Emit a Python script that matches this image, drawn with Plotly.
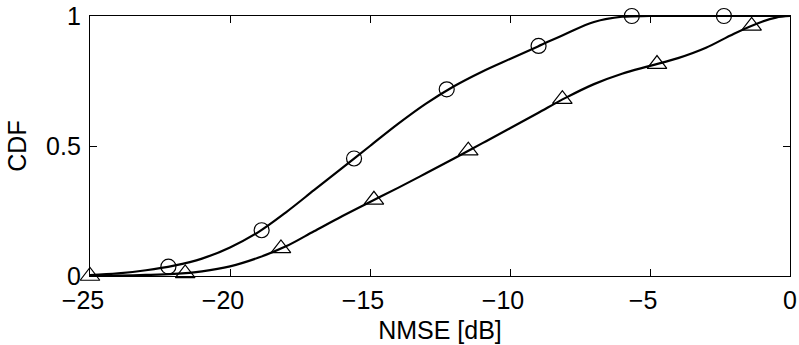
import plotly.graph_objects as go

# Smooth CDF curves
curve_x = [-25, -24, -23, -22, -21, -20, -19, -18, -17, -16, -15, -14, -13, -12, -11,
           -10, -9, -8, -7, -6, -5, -4, -3, -2, -1, -0.5, 0]
cdf_circle = [0.003, 0.01, 0.022, 0.04, 0.067, 0.11, 0.168, 0.245, 0.33, 0.415, 0.50,
              0.585, 0.663, 0.73, 0.786, 0.835, 0.883, 0.932, 0.977, 0.997, 1.0, 1.0, 1.0,
              1.0, 1.0, 1.0, 1.0]
cdf_triangle = [0.0, 0.002, 0.004, 0.008, 0.018, 0.037, 0.07, 0.114, 0.172, 0.23, 0.285,
                0.339, 0.395, 0.452, 0.51, 0.568, 0.627, 0.686, 0.738, 0.778, 0.808, 0.838,
                0.878, 0.932, 0.978, 0.994, 1.0]

# Marker positions
circle_x = [-22.2, -18.87, -15.57, -12.26, -8.98, -5.65, -2.36]
circle_y = [0.036, 0.176, 0.452, 0.718, 0.885, 1.0, 1.0]
tri_x = [-25.0, -21.6, -18.18, -14.86, -11.49, -8.13, -4.75, -1.37]
tri_y = [0.0, 0.01, 0.106, 0.293, 0.482, 0.68, 0.815, 0.962]

x_ticks = [-25, -20, -15, -10, -5, 0]
x_ticktext = ["\u221225", "\u221220", "\u221215", "\u221210", "\u22125", "0"]
y_ticks = [0, 0.5, 1]
y_ticktext = ["0", "0.5", "1"]

PAD = "\u00a0\u00a0"
x_labels = [t + PAD if t.startswith("\u2212") else t for t in x_ticktext]

fig = go.Figure()
for ys in (cdf_circle, cdf_triangle):
    fig.add_trace(go.Scatter(x=curve_x, y=ys, mode="lines",
                             line=dict(color="black", width=2.2, shape="spline", smoothing=1.0),
                             showlegend=False))
fig.add_trace(go.Scatter(x=circle_x, y=circle_y, mode="markers",
                         marker=dict(symbol="circle-open", size=15, color="black",
                                     line=dict(width=1.2, color="black")),
                         showlegend=False, cliponaxis=False))
fig.add_trace(go.Scatter(x=tri_x, y=tri_y, mode="markers",
                         marker=dict(symbol="triangle-up-open", size=17, color="black",
                                     line=dict(width=1.2, color="black")),
                         showlegend=False, cliponaxis=False))

font = dict(family="Liberation Sans, Arial, sans-serif", size=25, color="black")
fig.update_layout(
    width=799, height=345,
    margin=dict(l=90, r=9, t=16, b=69),
    paper_bgcolor="white", plot_bgcolor="white",
    font=font,
    xaxis=dict(range=[-25, 0], tickvals=x_ticks, ticktext=x_labels, ticks="inside",
               ticklen=7, tickcolor="black", tickwidth=1, showline=True,
               linecolor="black", linewidth=1.3, mirror="ticks", showgrid=False,
               zeroline=False, automargin=False, ticklabelstandoff=2,
               title=dict(text="NMSE [dB]", standoff=8, font=font), tickfont=font),
    yaxis=dict(range=[0, 1], tickvals=y_ticks, ticktext=y_ticktext, ticks="inside",
               ticklen=7, tickcolor="black", tickwidth=1, showline=True,
               linecolor="black", linewidth=1.3, mirror="ticks", showgrid=False,
               zeroline=False, automargin=False, ticklabelstandoff=3,
               title=dict(text="CDF", standoff=12, font=font), tickfont=font),
)
fig.write_html("out.html", config={"displayModeBar": False},
               post_script="document.body.style.margin='0';")
